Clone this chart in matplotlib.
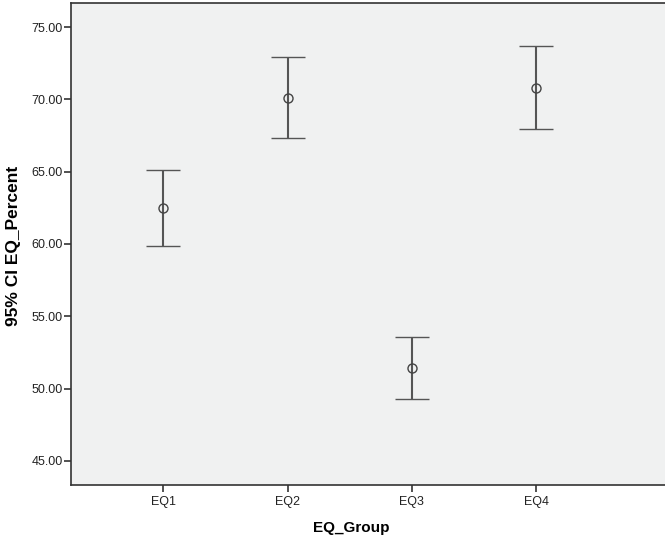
import matplotlib
matplotlib.use("Agg")
import matplotlib.pyplot as plt

# 95% CI of EQ_Percent per EQ group
groups = ['EQ1', 'EQ2', 'EQ3', 'EQ4']
means = [62.48, 70.10, 51.45, 70.80]
ci_low = [59.83, 67.30, 49.30, 67.96]
ci_high = [65.12, 72.93, 53.55, 73.69]
yticks = [45, 50, 55, 60, 65, 70, 75]

plt.rcParams['font.family'] = ['Liberation Sans', 'DejaVu Sans']

fig = plt.figure(figsize=(6.65, 5.39), dpi=100)
ax = fig.add_axes([71 / 665, 1 - 485 / 539, 1 - 71 / 665 + 0.01, (485 - 3) / 539])
ax.set_facecolor('#f0f1f1')

x = list(range(len(groups)))
err = [[m - lo for m, lo in zip(means, ci_low)], [hi - m for m, hi in zip(means, ci_high)]]
ax.errorbar(x, means, yerr=err, fmt='o', mfc='none', mec='#444444', ms=6.5, mew=1.0,
            ecolor='#555555', elinewidth=1.5, capsize=12.2, capthick=1.5)

ax.set_xlim(-0.742, 4.09)
ax.set_ylim(43.33, 76.67)
ax.set_xticks(x)
ax.set_xticklabels(groups)
ax.set_yticks(yticks)
ax.set_yticklabels([f'{v:.2f}' for v in yticks])
ax.tick_params(axis='both', labelsize=9, length=5, width=1.2, color='#333333', labelcolor='#222222')
ax.tick_params(axis='x', pad=3)
ax.tick_params(axis='y', pad=1)

for side in ['left', 'bottom', 'top']:
    ax.spines[side].set_color('#333333')
    ax.spines[side].set_linewidth(1.2)
ax.spines['right'].set_visible(False)

ax.set_xlabel('EQ_Group', fontsize=11, fontweight='bold')
ax.xaxis.set_label_coords(0.467, -0.075)
ax.set_ylabel('95% CI EQ_Percent', fontsize=12.5, fontweight='bold')
ax.yaxis.set_label_coords(-0.084, 0.496)

fig.savefig('out.png', dpi=100)
